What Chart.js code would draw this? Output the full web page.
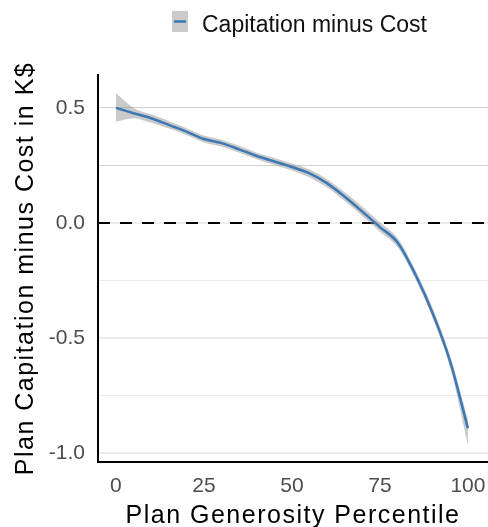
<!DOCTYPE html>
<html>
<head>
<meta charset="utf-8">
<script src="https://cdn.jsdelivr.net/npm/chart.js@4"></script>
<style>
  body { margin: 0; background: #fff; }
</style>
</head>
<body>
<canvas id="myChart" width="488" height="527"></canvas>
<script>
// percentile positions and smoothed values
const percentiles = [0, 5, 10, 15, 20, 25, 30, 35, 40, 45, 50, 55, 60, 65, 70, 75, 80, 85, 90, 95, 100];
const capMinusCost = [0.50, 0.477, 0.455, 0.426, 0.397, 0.365, 0.347, 0.32, 0.291, 0.267, 0.243, 0.215, 0.172, 0.114, 0.049, -0.018, -0.085, -0.222, -0.393, -0.605, -0.893];
const bandLower = [0.44, 0.455, 0.435, 0.41, 0.382, 0.35, 0.332, 0.305, 0.277, 0.252, 0.228, 0.198, 0.154, 0.095, 0.03, -0.038, -0.105, -0.242, -0.415, -0.632, -0.965];
const bandUpper = [0.565, 0.50, 0.472, 0.443, 0.412, 0.38, 0.362, 0.335, 0.305, 0.282, 0.258, 0.232, 0.19, 0.133, 0.07, 0.002, -0.065, -0.202, -0.371, -0.58, -0.855];
const xTicks = [0, 25, 50, 75, 100];
const yTicks = [-1, -0.75, -0.5, -0.25, 0, 0.25, 0.5];
const refLineY = 0;
const seriesLabel = 'Capitation minus Cost';

const colors = {
  line: '#3b78b4',
  band: 'rgba(150, 150, 150, 0.5)',
  text: '#4d4d4d',
};
const FONT = '"Liberation Sans", Arial, sans-serif';

const toPoints = (vals) => vals.map((v, i) => ({ x: percentiles[i], y: v }));
const isHalf = (v) => Math.abs(v * 2 - Math.round(v * 2)) < 1e-6;

// axis titles in the original are set a bit wider than Liberation Sans
function spreadTitle(scale) {
  if (scale._spread) return;
  const orig = scale.drawTitle.bind(scale);
  scale.drawTitle = function () {
    const c = this.ctx;
    const prev = c.letterSpacing;
    c.letterSpacing = '1.5px';
    orig();
    c.letterSpacing = prev || '0px';
  };
  scale._spread = true;
}

// dashed zero line + ggplot-style legend at the top
const extras = {
  id: 'extras',
  beforeDatasetsDraw(chart) {
    const { ctx, chartArea, scales } = chart;
    const y = scales.y.getPixelForValue(refLineY);
    ctx.save();
    ctx.strokeStyle = '#000';
    ctx.lineWidth = 2;
    ctx.setLineDash([12, 10]);
    ctx.beginPath();
    ctx.moveTo(chartArea.left, y);
    ctx.lineTo(chartArea.right, y);
    ctx.stroke();
    ctx.restore();
  },
  afterDraw(chart) {
    const ctx = chart.ctx;
    ctx.save();
    ctx.fillStyle = '#cbcbcb';
    ctx.fillRect(172, 11, 16, 21);
    ctx.strokeStyle = colors.line;
    ctx.lineWidth = 2.5;
    ctx.beginPath();
    ctx.moveTo(174, 21.5);
    ctx.lineTo(186, 21.5);
    ctx.stroke();
    ctx.fillStyle = '#111';
    ctx.font = '23px ' + FONT;
    ctx.textBaseline = 'alphabetic';
    ctx.fillText(seriesLabel, 202, 31.5);
    ctx.restore();
  },
};

const ctx = document.getElementById('myChart').getContext('2d');
new Chart(ctx, {
  type: 'line',
  data: {
    datasets: [
      {
        label: seriesLabel,
        data: toPoints(capMinusCost),
        borderColor: colors.line,
        borderWidth: 2.5,
        pointRadius: 0,
        fill: false,
        cubicInterpolationMode: 'monotone',
        order: 0,
      },
      {
        label: 'upper',
        data: toPoints(bandUpper),
        borderWidth: 0,
        pointRadius: 0,
        fill: false,
        cubicInterpolationMode: 'monotone',
        order: 2,
      },
      {
        label: 'lower',
        data: toPoints(bandLower),
        borderWidth: 0,
        pointRadius: 0,
        backgroundColor: colors.band,
        fill: '-1',
        cubicInterpolationMode: 'monotone',
        order: 1,
      },
    ],
  },
  options: {
    responsive: false,
    animation: false,
    devicePixelRatio: 1,
    layout: { padding: { top: 75, left: 0, right: 0, bottom: 0 } },
    plugins: {
      legend: { display: false },
      tooltip: { enabled: false },
    },
    scales: {
      x: {
        type: 'linear',
        min: -5.1,
        max: 105.7,
        afterBuildTicks: (scale) => { scale.ticks = xTicks.map((v) => ({ value: v })); },
        afterFit: (scale) => {
          scale.height = 65;
          scale.paddingLeft = 0;
          scale.paddingRight = 0;
          spreadTitle(scale);
        },
        grid: { display: false, drawTicks: false },
        border: { display: true, color: '#000', width: 2 },
        ticks: {
          padding: 12,
          maxRotation: 0,
          autoSkip: false,
          color: colors.text,
          font: { family: FONT, size: 21 },
          callback: (v) => String(v),
        },
        title: {
          display: true,
          text: 'Plan Generosity Percentile',
          color: '#000',
          padding: { top: 0, bottom: 0 },
          font: { family: FONT, size: 25, lineHeight: 0.85 },
        },
      },
      y: {
        type: 'linear',
        min: -1.039,
        max: 0.643,
        afterBuildTicks: (scale) => { scale.ticks = yTicks.map((v) => ({ value: v })); },
        afterFit: (scale) => {
          scale.width = 98;
          spreadTitle(scale);
        },
        grid: {
          drawTicks: false,
          color: (c) => (c.tick && c.tick.value > 0 ? '#cfcfcf' : '#ebebeb'),
          lineWidth: (c) => (c.tick && c.tick.value <= 0 && isHalf(c.tick.value) ? 2 : 1),
        },
        border: { display: true, color: '#000', width: 2 },
        ticks: {
          padding: 13,
          autoSkip: false,
          color: colors.text,
          font: { family: FONT, size: 21 },
          callback: (v) => (isHalf(v) ? v.toFixed(1) : ''),
        },
        title: {
          display: true,
          text: 'Plan Capitation minus Cost in K$',
          color: '#000',
          padding: { top: 15, bottom: 0 },
          font: { family: FONT, size: 25, lineHeight: 0.85 },
        },
      },
    },
  },
  plugins: [extras],
});
</script>
</body>
</html>
